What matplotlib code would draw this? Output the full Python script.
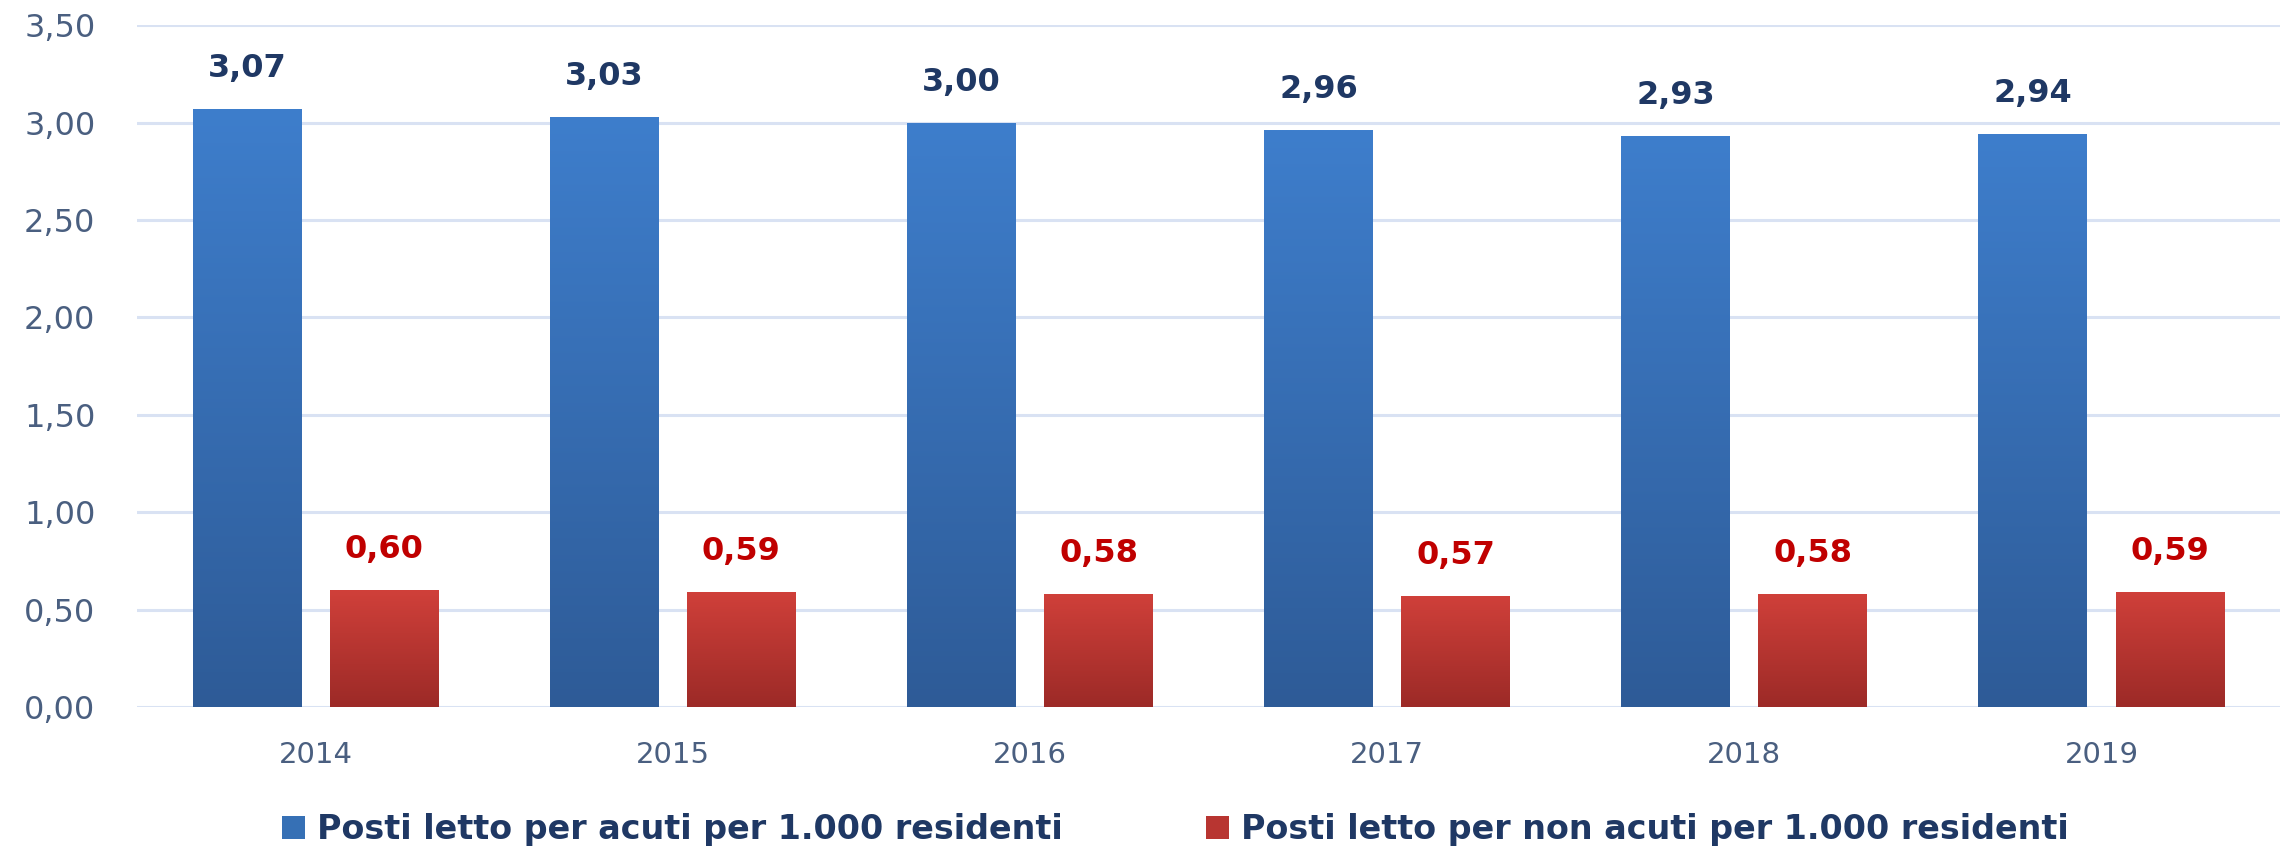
import numpy as np
import matplotlib
matplotlib.use('Agg')
import matplotlib.pyplot as plt
from matplotlib.colors import LinearSegmentedColormap
from matplotlib.patches import Patch

years = ['2014', '2015', '2016', '2017', '2018', '2019']
acuti = [3.07, 3.03, 3.00, 2.96, 2.93, 2.94]
non_acuti = [0.60, 0.59, 0.58, 0.57, 0.58, 0.59]
label_acuti = 'Posti letto per acuti per 1.000 residenti'
label_non_acuti = 'Posti letto per non acuti per 1.000 residenti'
yticks = [0.0, 0.5, 1.0, 1.5, 2.0, 2.5, 3.0, 3.5]

axis_col = '#4a5f80'
blue_txt = '#1f3864'
red_txt = '#c00000'
blue_cmap = LinearSegmentedColormap.from_list('b', ['#2e5b97', '#3e7ecc'])
red_cmap = LinearSegmentedColormap.from_list('r', ['#9c2a27', '#d0403a'])

fig = plt.figure(figsize=(22.95, 8.46), dpi=100)
ax = fig.add_axes([0.0597, 0.164, 0.9338, 0.8064])

x = np.arange(len(years))
w = 0.305
off = 0.192
grad = np.linspace(0, 1, 256).reshape(-1, 1)


def gradient_bars(xs, vals, cmap, base):
    bars = ax.bar(xs, vals, w, color=base, zorder=2, linewidth=0)
    for b in bars:
        x0, y0 = b.get_x(), b.get_y()
        im = ax.imshow(grad, extent=[x0, x0 + b.get_width(), y0, y0 + b.get_height()],
                       origin='lower', aspect='auto', cmap=cmap, zorder=3)
        im.set_clip_path(b)
    return bars


b1 = gradient_bars(x - off, acuti, blue_cmap, '#3670b5')
b2 = gradient_bars(x + off, non_acuti, red_cmap, '#b83531')

for xi, v in zip(x - off, acuti):
    ax.annotate(f'{v:.2f}'.replace('.', ','), (xi, v), xytext=(0, 18),
                textcoords='offset points', ha='center', va='bottom',
                fontsize=23, fontweight='bold', color=blue_txt)
for xi, v in zip(x + off, non_acuti):
    ax.annotate(f'{v:.2f}'.replace('.', ','), (xi, v), xytext=(0, 18),
                textcoords='offset points', ha='center', va='bottom',
                fontsize=23, fontweight='bold', color=red_txt)

ax.set_xlim(-0.5, 5.5)
ax.set_ylim(0, 3.5)
ax.set_yticks(yticks)
ax.set_yticklabels([f'{t:.2f}'.replace('.', ',') for t in yticks])
ax.set_xticks(x)
ax.set_xticklabels(years)
ax.tick_params(axis='y', length=0, pad=30, labelsize=23, labelcolor=axis_col)
ax.tick_params(axis='x', length=0, pad=24, labelsize=21, labelcolor=axis_col)
for s in ax.spines.values():
    s.set_visible(False)
ax.yaxis.grid(True, color='#d9e2f3', linewidth=2.2, zorder=0)
ax.set_axisbelow(True)

handles = [Patch(facecolor='#3670b5', label=label_acuti),
           Patch(facecolor='#b83531', label=label_non_acuti)]
leg = fig.legend(handles=handles, loc='center', bbox_to_anchor=(0.512, 0.019),
                 ncol=2, frameon=False, handlelength=0.7, handleheight=0.7,
                 handletextpad=0.35, columnspacing=4.3,
                 prop={'size': 24, 'weight': 'bold'})
for t in leg.get_texts():
    t.set_color(blue_txt)

fig.savefig('out.png', dpi=100)
